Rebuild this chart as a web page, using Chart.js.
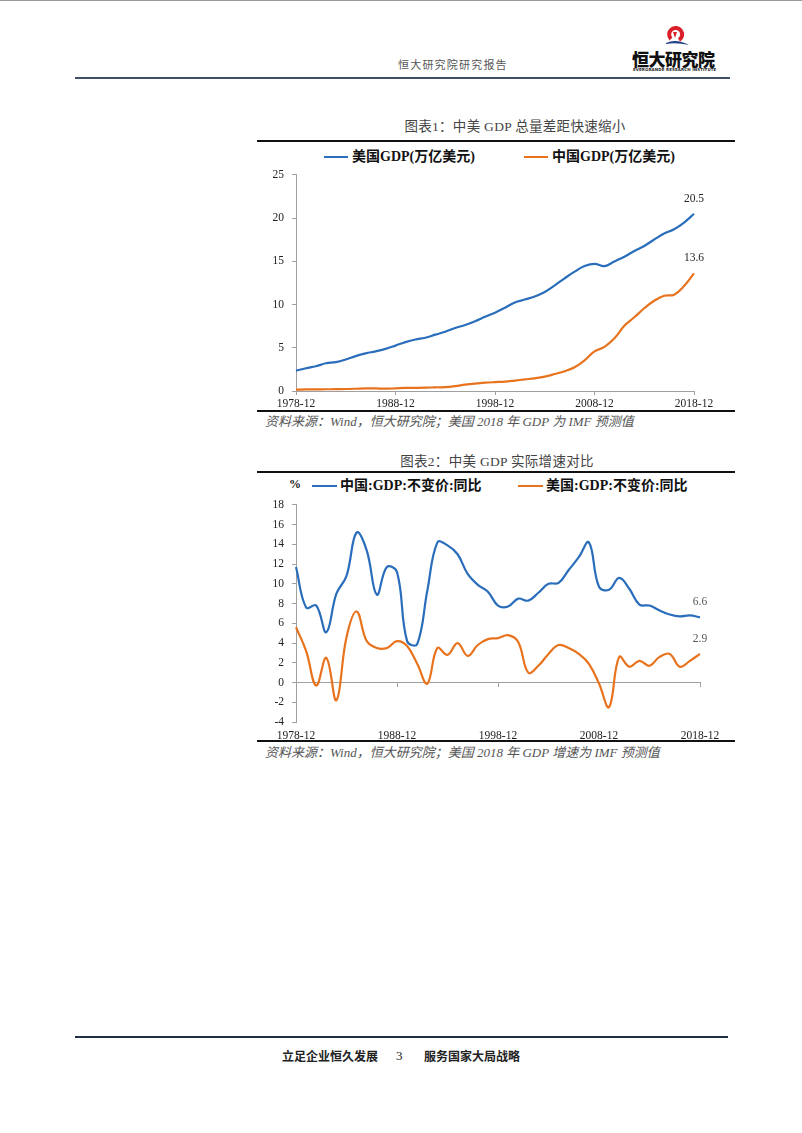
<!DOCTYPE html>
<html><head><meta charset="utf-8">
<script src="https://cdn.jsdelivr.net/npm/chart.js@4.4.0/dist/chart.umd.min.js"></script>
<style>
html,body{margin:0;padding:0;background:#fff;}
body{width:802px;height:1133px;position:relative;overflow:hidden;font-family:"Liberation Serif","Noto Sans CJK SC",serif;color:#222;}
.a{position:absolute;white-space:nowrap;}
.hl{position:absolute;}
.ttl{font-size:13.5px;line-height:20px;color:#444;letter-spacing:0.3px;transform:translateX(-50%);}
.src{font-size:13px;line-height:18px;color:#555;font-style:italic;letter-spacing:0px;}
.lg{font-size:14px;line-height:18px;font-weight:bold;color:#111;}
.sw{position:absolute;height:2px;}
canvas{position:absolute;}
</style></head>
<body>
<div class="hl" style="left:0;top:0;width:802px;height:1px;background:#999"></div>
<div class="a" style="left:398px;top:57px;font-size:11px;line-height:16px;letter-spacing:1.2px;color:#555">恒大研究院研究报告</div>
<svg class="a" style="left:662px;top:24px" width="30" height="24" viewBox="0 0 30 24">
  <path d="M9 15 A6.5 6.5 0 1 1 17 16" fill="none" stroke="#d9202a" stroke-width="4"/>
  <path d="M11 8 L15 8 L13 14 Z" fill="#d9202a"/>
  <path d="M4 19 Q14 14 27 21 Q14 18 4 20 Z" fill="#1f3f86"/>
</svg>
<div class="a" style="left:632px;top:49px;font-size:17px;line-height:20px;font-weight:900;font-family:'Noto Sans CJK SC';color:#111;letter-spacing:-0.5px">恒大研究院</div>
<div class="a" style="left:633px;top:67px;font-size:4px;line-height:5px;font-family:'DejaVu Sans';font-weight:bold;color:#222;letter-spacing:0.1px">EVERGRANDE RESEARCH INSTITUTE</div>
<div class="hl" style="left:75px;top:77px;width:655px;height:2px;background:#3f4f66"></div>

<div class="a ttl" style="left:515px;top:117px">图表1：中美 GDP 总量差距快速缩小</div>
<div class="hl" style="left:257px;top:140px;width:478px;height:2px;background:#111"></div>
<div class="sw" style="left:324px;top:156px;width:24px;background:#2a6ebb"></div>
<div class="a lg" style="left:352px;top:148px">美国GDP(万亿美元)</div>
<div class="sw" style="left:524px;top:156px;width:24px;background:#e8731e"></div>
<div class="a lg" style="left:552px;top:148px">中国GDP(万亿美元)</div>
<canvas id="c1" width="480" height="250" style="left:256px;top:160px"></canvas>
<div class="hl" style="left:257px;top:410px;width:478px;height:2px;background:#111"></div>
<div class="a src" style="left:265px;top:413px">资料来源：Wind，恒大研究院；美国 2018 年 GDP 为 IMF 预测值</div>

<div class="a ttl" style="left:497px;top:452px">图表2：中美 GDP 实际增速对比</div>
<div class="hl" style="left:257px;top:471px;width:478px;height:2px;background:#111"></div>
<div class="a" style="left:289px;top:477px;font-size:12px;line-height:14px;font-weight:bold">%</div>
<div class="sw" style="left:312px;top:485px;width:25px;background:#2a6ebb"></div>
<div class="a lg" style="left:340px;top:477px">中国:GDP:不变价:同比</div>
<div class="sw" style="left:518px;top:485px;width:25px;background:#e8731e"></div>
<div class="a lg" style="left:546px;top:477px">美国:GDP:不变价:同比</div>
<canvas id="c2" width="480" height="250" style="left:256px;top:490px"></canvas>
<div class="hl" style="left:257px;top:740px;width:478px;height:2px;background:#111"></div>
<div class="a src" style="left:265px;top:744px">资料来源：Wind，恒大研究院；美国 2018 年 GDP 增速为 IMF 预测值</div>

<div class="hl" style="left:75px;top:1036px;width:653px;height:2px;background:#1f2d45"></div>
<div class="a" style="left:282px;top:1048px;font-size:12px;line-height:16px;font-weight:bold;font-family:'Noto Sans CJK SC'">立足企业恒久发展</div>
<div class="a" style="left:396px;top:1048px;font-size:13px;line-height:16px;color:#222">3</div>
<div class="a" style="left:424px;top:1048px;font-size:12px;line-height:16px;font-weight:bold;font-family:'Noto Sans CJK SC'">服务国家大局战略</div>

<script>
const years = ['1978-12','1979-12','1980-12','1981-12','1982-12','1983-12','1984-12','1985-12','1986-12','1987-12',
'1988-12','1989-12','1990-12','1991-12','1992-12','1993-12','1994-12','1995-12','1996-12','1997-12',
'1998-12','1999-12','2000-12','2001-12','2002-12','2003-12','2004-12','2005-12','2006-12','2007-12',
'2008-12','2009-12','2010-12','2011-12','2012-12','2013-12','2014-12','2015-12','2016-12','2017-12','2018-12'];
const xTickLabels = ['1978-12','1988-12','1998-12','2008-12','2018-12'];

// 图表1 (万亿美元)
const usGdp = [2.35,2.63,2.86,3.21,3.34,3.64,4.04,4.35,4.59,4.87,
5.25,5.66,5.96,6.16,6.52,6.86,7.29,7.64,8.07,8.58,
9.06,9.63,10.25,10.58,10.94,11.46,12.21,13.04,13.81,14.45,
14.71,14.45,14.99,15.54,16.20,16.78,17.52,18.22,18.71,19.49,20.5];
const cnGdp = [0.15,0.18,0.19,0.20,0.21,0.23,0.26,0.31,0.30,0.27,
0.31,0.35,0.36,0.38,0.43,0.44,0.56,0.73,0.86,0.96,
1.03,1.09,1.21,1.34,1.47,1.66,1.96,2.29,2.75,3.55,
4.59,5.10,6.09,7.55,8.53,9.57,10.44,11.02,11.14,12.14,13.6];
const gdpTicks = [0,5,10,15,20,25];

// 图表2 (%)
const cnGrowth = [11.7,7.6,7.8,5.1,9.0,10.8,15.2,13.4,8.9,11.7,
11.2,4.2,3.9,9.3,14.2,13.9,13.0,11.0,9.9,9.2,
7.8,7.7,8.5,8.3,9.1,10.0,10.1,11.4,12.7,14.2,
9.7,9.4,10.6,9.5,7.9,7.8,7.3,6.9,6.7,6.8,6.6];
const usGrowth = [5.6,3.2,-0.3,2.5,-1.8,4.6,7.2,4.2,3.5,3.5,
4.2,3.7,1.9,-0.1,3.5,2.8,4.0,2.7,3.8,4.4,
4.5,4.8,4.1,1.0,1.7,2.9,3.8,3.5,2.9,1.9,
-0.1,-2.5,2.6,1.6,2.2,1.7,2.6,2.9,1.6,2.2,2.9];
const growthTicks = [-4,-2,0,2,4,6,8,10,12,14,16,18];

const BLUE = '#2a6ebb', ORANGE = '#e8731e', AX = '#a0a0a0';
const NUMFONT = {family:'"Liberation Serif"', size:11.5};

const endLabel = {
  id:'endLabel',
  afterDatasetsDraw(chart, args, opts){
    const ctx = chart.ctx;
    chart.data.datasets.forEach((ds,i)=>{
      const meta = chart.getDatasetMeta(i);
      const pt = meta.data[meta.data.length-1];
      const v = ds.data[ds.data.length-1];
      ctx.save();
      ctx.font = '11.5px "Liberation Serif"';
      ctx.fillStyle = opts.color || '#222';
      ctx.textAlign = 'center';
      ctx.textBaseline = 'middle';
      ctx.fillText(v.toFixed(1), pt.x, pt.y - 15);
      ctx.restore();
    });
  }
};

const tickMarkColor = c => (xTickLabels.includes(years[c.index]) ? AX : 'rgba(0,0,0,0)');
const xLabel = (v,i) => (xTickLabels.includes(years[i]) ? years[i] : '');

function lineDs(label, data, color){
  return {label, data, borderColor:color, backgroundColor:color, borderWidth:2.2, pointRadius:0, tension:0.4, fill:false, xAxisID:'x', yAxisID:'y'};
}

new Chart(document.getElementById('c1'), {
  type:'line',
  data:{labels:years, datasets:[
    lineDs('美国GDP(万亿美元)', usGdp, BLUE),
    lineDs('中国GDP(万亿美元)', cnGdp, ORANGE)
  ]},
  options:{
    responsive:false, animation:false, devicePixelRatio:1,
    layout:{padding:{top:13,right:42,left:0,bottom:0}},
    plugins:{legend:{display:false}, tooltip:{enabled:false}, endLabel:{color:'#222'}},
    scales:{
      x:{type:'category', offset:false,
         grid:{drawOnChartArea:false, tickLength:4, tickColor:tickMarkColor},
         border:{color:AX, width:1},
         ticks:{autoSkip:false, maxRotation:0, minRotation:0, padding:2, font:NUMFONT, color:'#222', callback:xLabel},
         afterFit:s=>{s.height=19;}},
      y:{min:gdpTicks[0], max:gdpTicks[gdpTicks.length-1],
         afterBuildTicks:s=>{s.ticks = gdpTicks.map(v=>({value:v}));},
         grid:{drawOnChartArea:false, tickLength:4, tickColor:AX},
         border:{color:AX, width:1},
         ticks:{padding:8, font:NUMFONT, color:'#222'},
         afterFit:s=>{s.width=40;}}
    }
  },
  plugins:[endLabel]
});

new Chart(document.getElementById('c2'), {
  type:'line',
  data:{labels:years, datasets:[
    lineDs('中国:GDP:不变价:同比', cnGrowth, BLUE),
    lineDs('美国:GDP:不变价:同比', usGrowth, ORANGE)
  ]},
  options:{
    responsive:false, animation:false, devicePixelRatio:1,
    layout:{padding:{top:7,right:36,left:0,bottom:0}},
    plugins:{legend:{display:false}, tooltip:{enabled:false}, endLabel:{color:'#555'}},
    scales:{
      x:{type:'category', position:'bottom', offset:false,
         grid:{display:false, drawTicks:false},
         border:{display:false},
         ticks:{autoSkip:false, maxRotation:0, minRotation:0, padding:7, font:NUMFONT, color:'#222', callback:xLabel},
         afterFit:s=>{s.height=18;}},
      x0:{type:'category', position:{y:0}, offset:false,
         grid:{drawOnChartArea:false, tickLength:4, tickColor:tickMarkColor},
         border:{color:AX, width:1},
         ticks:{display:false}},
      y:{min:growthTicks[0], max:growthTicks[growthTicks.length-1],
         afterBuildTicks:s=>{s.ticks = growthTicks.map(v=>({value:v}));},
         grid:{drawOnChartArea:false, tickLength:4, tickColor:AX},
         border:{color:AX, width:1},
         ticks:{padding:8, font:NUMFONT, color:'#222'},
         afterFit:s=>{s.width=40;}}
    }
  },
  plugins:[endLabel]
});
</script>
</body></html>
